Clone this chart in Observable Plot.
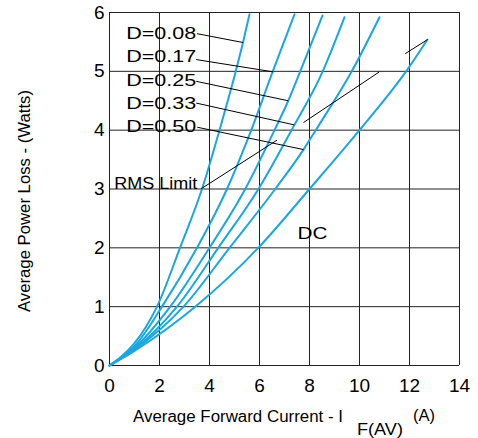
<!DOCTYPE html>
<html>
<head>
<meta charset="utf-8">
<script src="https://cdn.jsdelivr.net/npm/d3@7"></script>
<script src="https://cdn.jsdelivr.net/npm/@observablehq/plot@0.6"></script>
<style>
  html, body { margin: 0; padding: 0; background: #fff; }
  #chart svg { display: block; }
</style>
</head>
<body>
<div id="chart"></div>
<script>
// ---- data ----
const seriesNames = ["D=0.08", "D=0.17", "D=0.25", "D=0.33", "D=0.50", "DC"];
const d008X = [0, 0.5, 1, 1.9, 2.82, 3.7, 4.4, 5.05, 5.34, 5.6];
const d008Y = [0, 0.16, 0.38, 1, 2, 3, 4, 5, 5.49, 5.97];
const d017X = [0, 0.5, 1, 2.1, 3.5, 4.7, 5.67, 6.53, 7.4];
const d017Y = [0, 0.15, 0.33, 1, 2, 3, 4, 5, 5.97];
const d025X = [0, 0.5, 1, 2.43, 4.0, 5.43, 6.6, 7.15, 7.63, 8.52];
const d025Y = [0, 0.14, 0.3, 1, 2, 3, 4, 4.5, 5, 5.95];
const d033X = [0, 0.5, 1, 2.7, 4.35, 5.96, 7.28, 8.53, 9.4];
const d033Y = [0, 0.135, 0.28, 1, 2, 3, 4, 5, 5.92];
const d050X = [0, 0.5, 1, 2.96, 4.8, 6.63, 7.76, 8.25, 9.69, 10.8];
const d050Y = [0, 0.13, 0.27, 1, 2, 3, 3.67, 4, 5, 5.92];
const dcX = [0, 0.5, 1, 3.43, 5.95, 8.0, 10.0, 11.9, 12.72];
const dcY = [0, 0.12, 0.25, 1, 2, 3, 4, 5.02, 5.54];

const xTicks = [0, 2, 4, 6, 8, 10, 12, 14];
const yTicks = [0, 1, 2, 3, 4, 5, 6];

// label positions (data units) and leader lines
const labelText = ["D=0.08", "D=0.17", "D=0.25", "D=0.33", "D=0.50", "RMS Limit", "DC"];
const labelX = [0.67, 0.67, 0.67, 0.67, 0.67, 0.19, 7.52];
const labelY = [5.64, 5.25, 4.84, 4.46, 4.07, 3.10, 2.245];
const labelW = [70, 70, 70, 70, 70, 83, 30];

const leadX1 = [3.50, 3.47, 3.47, 3.47, 3.51, 3.67, 7.76, 11.83];
const leadY1 = [5.64, 5.20, 4.83, 4.46, 4.05, 3.005, 4.13, 5.30];
const leadX2 = [5.34, 6.56, 7.15, 7.39, 7.76, 6.70, 10.79, 12.72];
const leadY2 = [5.49, 4.99, 4.50, 4.09, 3.67, 3.83, 4.99, 5.54];

// ---- build tables ----
const seriesX = [d008X, d017X, d025X, d033X, d050X, dcX];
const seriesY = [d008Y, d017Y, d025Y, d033Y, d050Y, dcY];
const rows = [];
seriesNames.forEach((s, i) => seriesX[i].forEach((x, j) => rows.push({s, x, y: seriesY[i][j]})));
const labels = labelText.map((t, i) => ({t, x: labelX[i], y: labelY[i], w: labelW[i]}));
const leaders = leadX1.map((x1, i) => ({x1, y1: leadY1[i], x2: leadX2[i], y2: leadY2[i]}));

const FONT = "'Liberation Sans', Arial, Helvetica, sans-serif";
const gridColor = "#222";

const chart = Plot.plot({
  width: 478,
  height: 438,
  marginLeft: 109,
  marginRight: 19,
  marginTop: 12,
  marginBottom: 73,
  style: {fontFamily: FONT, background: "#fff", color: "#000"},
  x: {domain: [0, 14], ticks: xTicks, label: null},
  y: {domain: [0, 6], ticks: yTicks, label: null},
  marks: [
    Plot.gridX(xTicks, {stroke: gridColor, strokeOpacity: 1, strokeWidth: 1}),
    Plot.gridY(yTicks, {stroke: gridColor, strokeOpacity: 1, strokeWidth: 1}),
    Plot.line(rows, {x: "x", y: "y", z: "s", stroke: "#1aa7e0", strokeWidth: 2, curve: "monotone-x"}),
    Plot.link(leaders, {x1: "x1", y1: "y1", x2: "x2", y2: "y2", stroke: "#000", strokeWidth: 1}),
    Plot.text(labels, {x: "x", y: "y", text: "t", textAnchor: "start", fontSize: 17, fill: "#000", className: "lbl"}),
    Plot.axisX(xTicks, {tickSize: 0, tickPadding: 13, fontSize: 19, label: null, tickFormat: d3.format("d")}),
    Plot.axisY(yTicks, {tickSize: 0, tickPadding: 5, fontSize: 19, label: null, tickFormat: d3.format("d")})
  ]
});

document.getElementById("chart").appendChild(chart);

// stretch annotation labels to the widths seen in the reference
const svg = d3.select(chart);
svg.selectAll("g.lbl text").each(function(d, i) {
  d3.select(this).attr("textLength", labels[i].w).attr("lengthAdjust", "spacingAndGlyphs");
});

// axis titles (with subscript)
function addText(x, y, size, len, str, anchor, transform) {
  const t = svg.append("text")
    .attr("font-size", size).attr("font-family", FONT).attr("fill", "#000")
    .attr("text-anchor", anchor)
    .attr("textLength", len).attr("lengthAdjust", "spacingAndGlyphs")
    .text(str);
  if (transform) t.attr("transform", transform);
  else t.attr("x", x).attr("y", y);
  return t;
}
addText(133, 421.5, 16, 210, "Average Forward Current - I", "start");
addText(357, 434.5, 16, 46, "F(AV)", "start");
addText(413, 421, 16, 22, "(A)", "start");
addText(0, 0, 16, 222, "Average Power Loss - (Watts)", "middle", "translate(29.5,201) rotate(-90)");
</script>
</body>
</html>
